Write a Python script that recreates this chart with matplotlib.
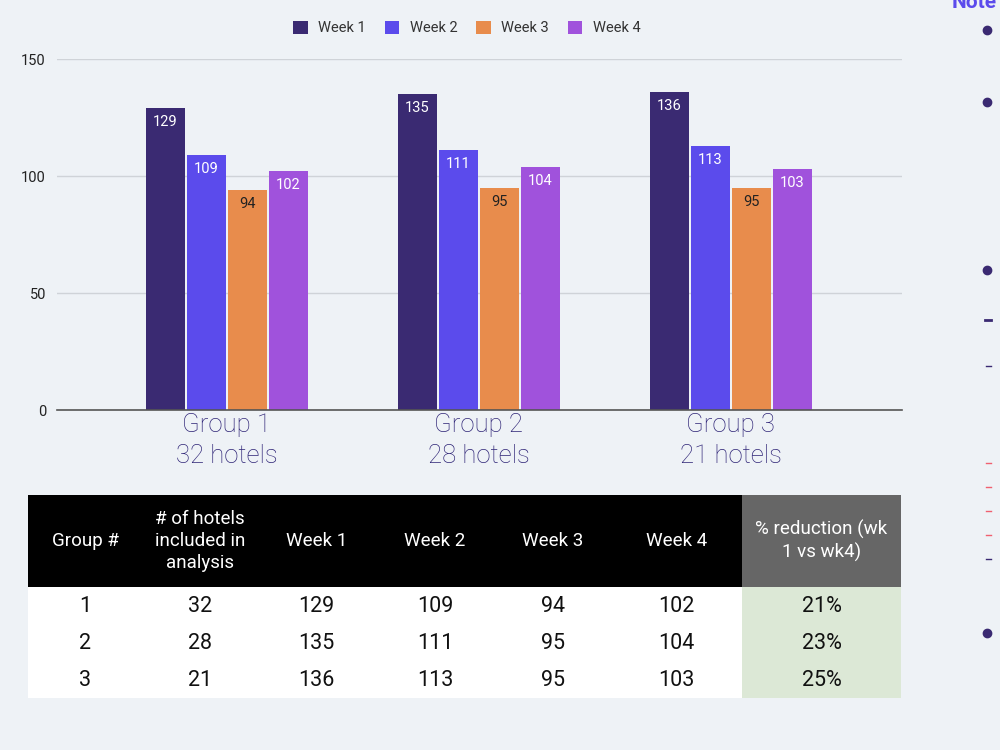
import matplotlib
matplotlib.use('Agg')
import matplotlib.pyplot as plt
from matplotlib.patches import Rectangle
import numpy as np

plt.rcParams['font.family'] = ['Roboto', 'DejaVu Sans']

# data
groups = ['Group 1', 'Group 2', 'Group 3']
hotels = [32, 28, 21]
weeks = ['Week 1', 'Week 2', 'Week 3', 'Week 4']
week1 = [129, 135, 136]
week2 = [109, 111, 113]
week3 = [94, 95, 95]
week4 = [102, 104, 103]
reduction = ['21%', '23%', '25%']
header = ['Group #', '# of hotels\nincluded in\nanalysis', 'Week 1', 'Week 2',
          'Week 3', 'Week 4', '% reduction (wk\n1 vs wk4)']

colors = ['#3a2a72', '#5b4bec', '#e88c4c', '#a052dc']
label_colors = ['white', 'white', '#222222', 'white']
bg = '#eef2f6'

fig = plt.figure(figsize=(10, 7.5), dpi=100, facecolor=bg)

# ---- bar chart ----
ax = fig.add_axes([0.057, 0.4533, 0.845, 0.468])
ax.set_facecolor(bg)
x = np.arange(len(groups))
width = 0.155
step = 0.163
series = [week1, week2, week3, week4]
for i, vals in enumerate(series):
    pos = x + (i - 1.5) * step
    bars = ax.bar(pos, vals, width=width, color=colors[i], label=weeks[i], zorder=3)
    for b, v in zip(bars, vals):
        ax.text(b.get_x() + b.get_width() / 2, v - 3, str(v), ha='center', va='top',
                color=label_colors[i], fontsize=10.5, zorder=4)

ax.set_ylim(0, 150)
ax.set_xlim(-0.675, 2.68)
ax.set_yticks([0, 50, 100, 150])
ax.yaxis.grid(True, color='#cfd3d8', linewidth=1, zorder=0)
ax.tick_params(axis='y', length=0, labelsize=10.5, labelcolor='#222222', pad=8)
ax.tick_params(axis='x', length=0, pad=2)
ax.set_xticks(x)
ax.set_xticklabels([f'{g}\n{h} hotels' for g, h in zip(groups, hotels)],
                   fontsize=18.5, color='#2f2577', fontweight='light', linespacing=1.4)
for s in ['top', 'right', 'left']:
    ax.spines[s].set_visible(False)
ax.spines['bottom'].set_color('#555555')
ax.spines['bottom'].set_linewidth(1.2)
ax.spines['bottom'].set_zorder(5)

leg = ax.legend(loc='lower center', bbox_to_anchor=(0.485, 1.03), ncol=4, frameon=False,
                fontsize=10.5, handlelength=1.0, handleheight=1.0, columnspacing=1.3,
                handletextpad=0.7)
for t in leg.get_texts():
    t.set_color('#333333')

# ---- table ----
tax = fig.add_axes([0, 0, 1, 1])
tax.set_xlim(0, 1000)
tax.set_ylim(750, 0)
tax.axis('off')

col_edges = [28, 143, 257, 376, 494, 611, 742, 901]
head_top, head_bot = 495, 587
row_h = 37

for c in range(len(header)):
    x0, x1 = col_edges[c], col_edges[c + 1]
    fc = '#666666' if c == len(header) - 1 else 'black'
    tax.add_patch(Rectangle((x0, head_top), x1 - x0, head_bot - head_top, fc=fc, ec='none'))
    tax.text((x0 + x1) / 2, (head_top + head_bot) / 2, header[c], ha='center', va='center',
             color='white', fontsize=13.5, linespacing=1.3)

rows = []
for r in range(len(groups)):
    rows.append([str(r + 1), str(hotels[r]), str(week1[r]), str(week2[r]),
                 str(week3[r]), str(week4[r]), reduction[r]])

for r, row in enumerate(rows):
    y0 = head_bot + r * row_h
    for c, val in enumerate(row):
        x0, x1 = col_edges[c], col_edges[c + 1]
        fc = '#dce8d6' if c == len(row) - 1 else 'white'
        tax.add_patch(Rectangle((x0, y0), x1 - x0, row_h, fc=fc, ec='none'))
        tax.text((x0 + x1) / 2, y0 + row_h / 2 + 1, val, ha='center', va='center',
                 color='#111111', fontsize=15.5)

# ---- notes panel on the right (clipped by the page edge in the original) ----
tax.text(952, 3, 'Note', color='#5b4bec', fontsize=15, fontweight='bold', va='center')
for yb in [30, 102, 270, 633]:
    tax.plot(987, yb, 'o', color='#3a2a72', markersize=6)
tax.plot([985, 991], [320, 320], color='#3a2a72', lw=2)
tax.plot([986, 991], [366, 366], color='#3a2a72', lw=1)
for yd in [463, 487, 511, 535]:
    tax.plot([986, 991], [yd, yd], color='#f06070', lw=1)
tax.plot([986, 991], [559, 559], color='#3a2a72', lw=1)

fig.savefig('out.png', dpi=100, facecolor=bg)
